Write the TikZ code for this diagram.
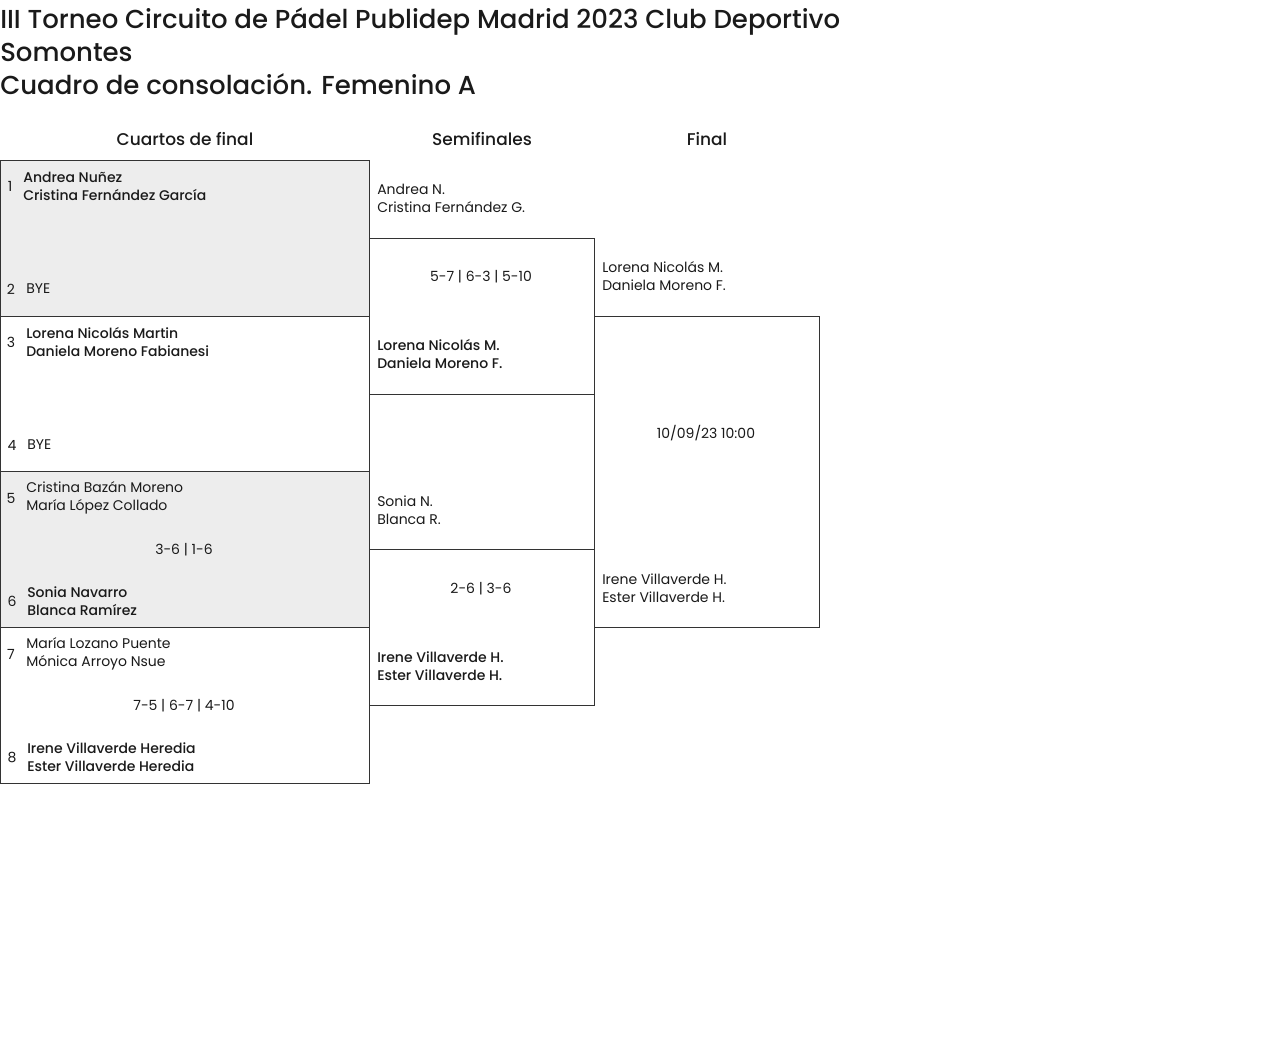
\documentclass[tikz,border=0pt]{standalone}
\usepackage{fontspec}
\setmainfont{Poppins}[BoldFont=Poppins Medium]
\usepackage{xcolor}
\usepackage{tikz}
\usetikzlibrary{positioning}
\definecolor{bracketgray}{HTML}{EDEDED}
\definecolor{linegray}{HTML}{333333}
\definecolor{inkblack}{HTML}{1A1A1A}

\begin{document}
\begin{tikzpicture}[
  x=0.75pt, y=-0.75pt,
  match/.style={rectangle, draw=linegray, line width=0.75pt, fill=#1, anchor=north west, inner sep=0pt, minimum width=276.75pt, minimum height=116.8pt},
  match/.default=white,
  semibox/.style={match, minimum width=168.75pt, minimum height=116.8pt},
  finalbox/.style={match, minimum width=168.75pt, minimum height=233.6pt},
  team/.style={anchor=west, align=left, inner sep=0pt, text=inkblack, font=\fontsize{10.5}{13.5}\selectfont},
  winner/.style={team, font=\fontsize{10.5}{13.5}\selectfont\bfseries},
  seed/.style={inner sep=0pt, text=inkblack, font=\fontsize{10.5}{13.5}\selectfont},
  score/.style={inner sep=0pt, text=inkblack, font=\fontsize{10.5}{13.5}\selectfont},
  roundhead/.style={inner sep=0pt, text=inkblack, font=\fontsize{12.75}{15}\selectfont\bfseries},
  headline/.style={anchor=west, align=left, inner sep=0pt, text=inkblack, font=\fontsize{19.5}{24.75}\selectfont\bfseries}
]
  \useasboundingbox (0,0) rectangle (1280,1048);

  % Title
  \node[headline] (title) at (0,51) {III Torneo Circuito de Pádel Publidep Madrid 2023 Club Deportivo\\Somontes\\Cuadro de consolación. Femenino A};

  % Round headers
  \node[roundhead] (hqf) at (185,139) {Cuartos de final};
  \node[roundhead] (hsf) at (482,139) {Semifinales};
  \node[roundhead] (hf) at (707,139) {Final};

  % Quarter finals
  \node[match=bracketgray] (qf1) at (0,160) {};
  \node[match] (qf2) at (0,315.7) {};
  \node[match=bracketgray] (qf3) at (0,471.3) {};
  \node[match] (qf4) at (0,627) {};

  % Semi finals
  \node[semibox] (sf1) at (369,237.8) {};
  \node[semibox] (sf2) at (369,549.2) {};

  % Final
  \node[finalbox] (fin) at (594,315.7) {};

  % Quarter final entries
  \node[seed] (s1) at (10,186) {1};
  \node[winner] (t1) at (23,186) {Andrea Nuñez\\Cristina Fernández García};
  \node[seed] (s2) at (11,289) {2};
  \node[team] (t2) at (26,289) {BYE};
  \node[seed] (s3) at (11,342) {3};
  \node[winner] (t3) at (26,342) {Lorena Nicolás Martin\\Daniela Moreno Fabianesi};
  \node[seed] (s4) at (12,445) {4};
  \node[team] (t4) at (27,445) {BYE};
  \node[seed] (s5) at (11,498) {5};
  \node[team] (t5) at (26,498) {Cristina Bazán Moreno\\María López Collado};
  \node[score] (r3) at (184,550) {3-6 | 1-6};
  \node[seed] (s6) at (12,601) {6};
  \node[winner] (t6) at (27,601) {Sonia Navarro\\Blanca Ramírez};
  \node[seed] (s7) at (11,654) {7};
  \node[team] (t7) at (26,654) {María Lozano Puente\\Mónica Arroyo Nsue};
  \node[score] (r4) at (184,706) {7-5 | 6-7 | 4-10};
  \node[seed] (s8) at (12,757) {8};
  \node[winner] (t8) at (27,757) {Irene Villaverde Heredia\\Ester Villaverde Heredia};

  % Semi final entries
  \node[team] (u1) at (377,198) {Andrea N.\\Cristina Fernández G.};
  \node[score] (q1) at (481,277) {5-7 | 6-3 | 5-10};
  \node[winner] (u2) at (377,354) {Lorena Nicolás M.\\Daniela Moreno F.};
  \node[team] (u3) at (377,510) {Sonia N.\\Blanca R.};
  \node[score] (q2) at (481,589) {2-6 | 3-6};
  \node[winner] (u4) at (377,666) {Irene Villaverde H.\\Ester Villaverde H.};

  % Final entries
  \node[team] (v1) at (602,276) {Lorena Nicolás M.\\Daniela Moreno F.};
  \node[score] (date) at (706,433) {10/09/23 10:00};
  \node[team] (v2) at (602,588) {Irene Villaverde H.\\Ester Villaverde H.};
\end{tikzpicture}
\end{document}
